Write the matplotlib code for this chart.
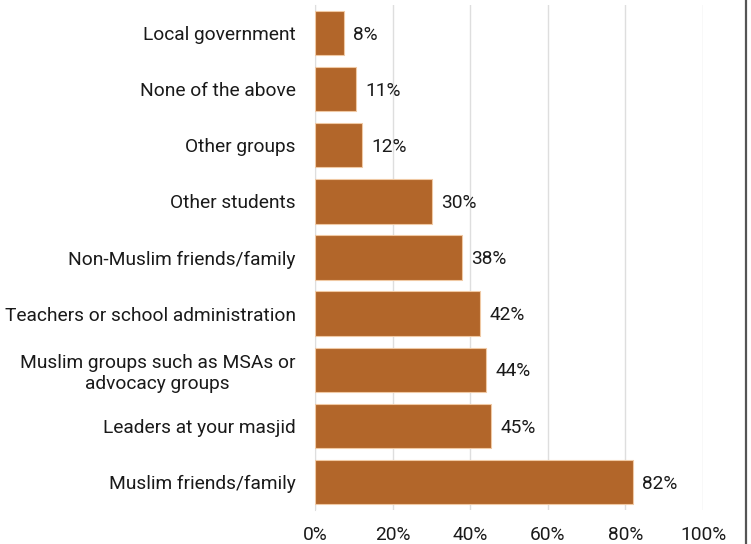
import numpy as np
import matplotlib.pyplot as plt
from matplotlib.lines import Line2D

plt.rcParams['font.family'] = ['Roboto', 'DejaVu Sans']

# --- data (top to bottom as shown) ---
categories = [
    "Local government",
    "None of the above",
    "Other groups",
    "Other students",
    "Non-Muslim friends/family",
    "Teachers or school administration",
    "Muslim groups such as MSAs or\nadvocacy groups",
    "Leaders at your masjid",
    "Muslim friends/family",
]
values = [7.5, 10.6, 12.1, 30.2, 37.9, 42.5, 44.1, 45.4, 82.0]
value_labels = ["8%", "11%", "12%", "30%", "38%", "42%", "44%", "45%", "82%"]
xticks = [0, 20, 40, 60, 80, 100]

fs = 13.8
fig = plt.figure(figsize=(7.51, 5.44), dpi=100)
ax = fig.add_axes([315 / 751, 34 / 544, 388 / 751, 505 / 544])

y = np.arange(len(categories))
ax.barh(y, values, height=0.79, color='#b2662a', edgecolor='#f0c9a4',
        linewidth=0.8, zorder=3)

for yi, v, lab in zip(y, values, value_labels):
    ax.text(v + 2.4, yi + 0.03, lab, va='center', ha='left', fontsize=fs, color='#1a1a1a')

ax.set_xlim(0, 100)
ax.set_ylim(len(categories) - 0.5, -0.5)
ax.set_yticks(y)
ax.set_yticklabels(categories, fontsize=fs, color='#1a1a1a', multialignment='center',
                   linespacing=1.25)
ax.set_xticks(xticks)
ax.set_xticklabels([f"{t}%" for t in xticks], fontsize=fs, color='#1a1a1a')
ax.tick_params(axis='x', length=0, pad=11.5)
ax.tick_params(axis='y', length=0, pad=14)

ax.grid(axis='x', color='#dedede', linewidth=1, zorder=0)
for s in ['top', 'right', 'bottom']:
    ax.spines[s].set_visible(False)
ax.spines['left'].set_color('#dedede')

# border line at the right edge
fig.add_artist(Line2D([745.5 / 751, 745.5 / 751], [0, 1], color='#555555', linewidth=1.6))

fig.savefig('out.png', dpi=100)
